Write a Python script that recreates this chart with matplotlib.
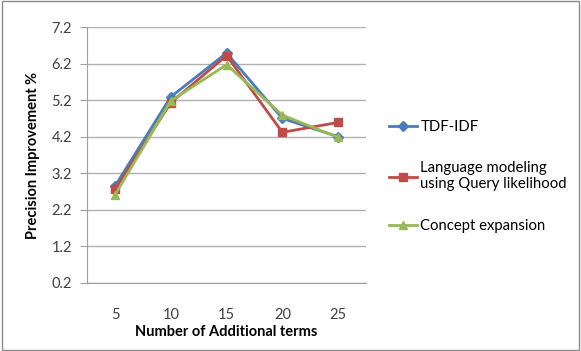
import matplotlib.pyplot as plt
from matplotlib.patches import Rectangle

plt.rcParams['font.family'] = ['Lato', 'DejaVu Sans']

terms = [5, 10, 15, 20, 25]
tfidf = [2.85, 5.29, 6.49, 4.70, 4.20]
lang_model = [2.76, 5.13, 6.42, 4.32, 4.59]
concept = [2.61, 5.18, 6.17, 4.79, 4.18]
yticks = [0.2, 1.2, 2.2, 3.2, 4.2, 5.2, 6.2, 7.2]

fig = plt.figure(figsize=(5.81, 3.51), dpi=100)
ax = fig.add_axes([0.150, 0.194, 0.480, 0.729])

pos = list(range(len(terms)))
ax.plot(pos, tfidf, color='#4A7EBB', marker='D', markersize=5, lw=2, label='TDF-IDF')
ax.plot(pos, lang_model, color='#BE4B48', marker='s', markersize=6, lw=2,
        label='Language modeling\nusing Query likelihood')
ax.plot(pos, concept, color='#98B954', marker='^', markersize=6, lw=2, label='Concept expansion')

ax.set_xlim(-0.5, len(terms) - 0.5)
ax.set_ylim(0.2, 7.2)
ax.set_xticks(pos)
ax.set_xticklabels([str(t) for t in terms])
ax.set_yticks(yticks)
ax.set_yticklabels([f'{v:.1f}' for v in yticks])
ax.grid(axis='y', color='#b0b0b0', lw=1)
ax.set_axisbelow(True)
for s in ['top', 'right']:
    ax.spines[s].set_visible(False)
ax.spines['left'].set_color('#a0a0a0')
ax.spines['bottom'].set_color('#a0a0a0')
ax.tick_params(axis='y', length=5, color='#a0a0a0', labelsize=10.5, colors='#404040', pad=6)
ax.tick_params(axis='x', length=0, labelsize=10.5, colors='#404040', pad=18)
ax.set_xlabel('Number of Additional terms', fontweight='bold', fontsize=10.5, labelpad=2)
ax.set_ylabel('Precision Improvement %', fontweight='bold', fontsize=10.5, labelpad=8)

ax.legend(loc='upper left', bbox_to_anchor=(1.035, 0.69), frameon=False, fontsize=10.7,
          handlelength=1.9, handletextpad=0.2, labelspacing=1.85)

fig.patches.append(Rectangle((0.003, 0.004), 0.994, 0.992, transform=fig.transFigure,
                             fill=False, edgecolor='#8a8a8a', lw=1))

fig.savefig('out.png', dpi=100)
